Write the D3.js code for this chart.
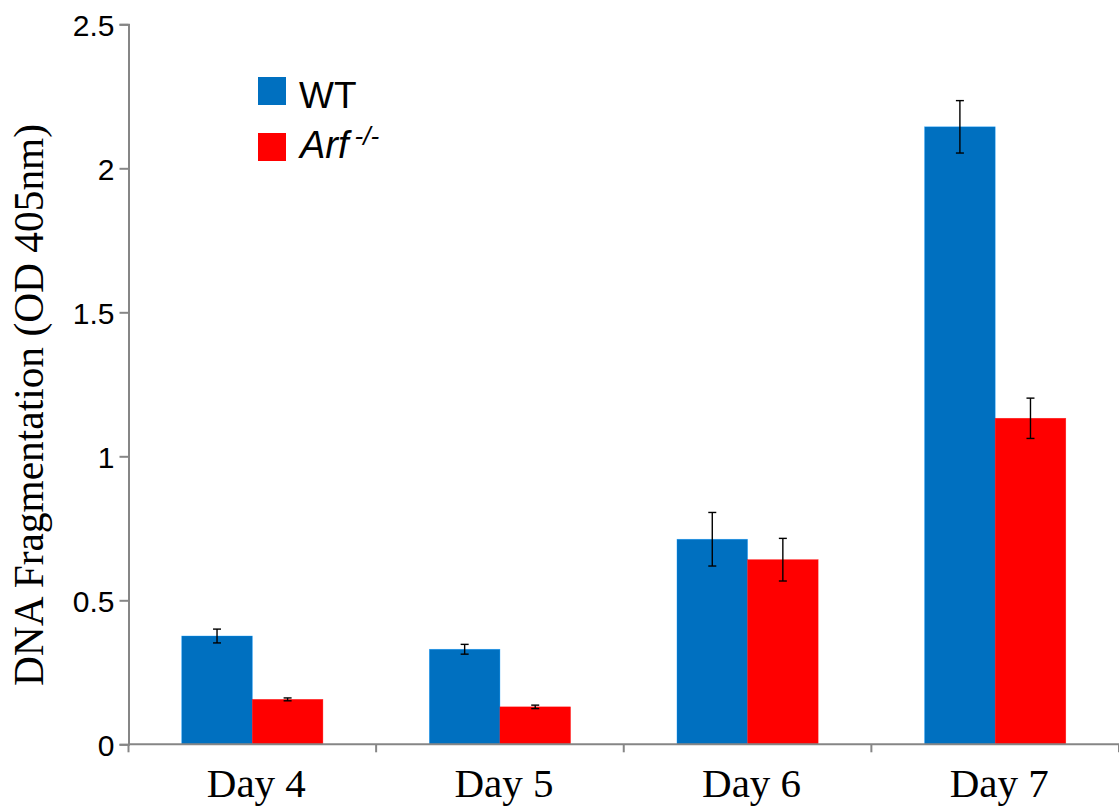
<!DOCTYPE html>
<html><head><meta charset="utf-8">
<script src="https://cdn.jsdelivr.net/npm/d3@7"></script>
<style>body{margin:0;background:#fff}svg{display:block}</style>
</head><body>
<svg id="c" width="1119" height="808"></svg>
<script>
const categories = ["Day 4", "Day 5", "Day 6", "Day 7"];
const seriesNames = ["WT", "Arf"];
const wtValues = [0.376, 0.330, 0.712, 2.144];
const wtErrors = [0.024, 0.017, 0.093, 0.091];
const arfValues = [0.156, 0.130, 0.641, 1.132];
const arfErrors = [0.005, 0.006, 0.074, 0.070];
const yTicks = [0, 0.5, 1, 1.5, 2, 2.5];
const colors = ["#0070C0", "#FF0000"];

const svg = d3.select("#c");
const m = {left: 128.5, right: 1119, top: 24.3, bottom: 744.3};
const x0 = d3.scaleBand().domain(categories).range([m.left, m.right]).padding(0);
const barW = x0.bandwidth() * 0.285;
const x1 = d3.scaleBand().domain(seriesNames).range([0, barW * 2]).padding(0);
const y = d3.scaleLinear().domain([0, 2.5]).range([m.bottom, m.top]);

const series = [
  {name: "WT", values: wtValues, errors: wtErrors, color: colors[0]},
  {name: "Arf", values: arfValues, errors: arfErrors, color: colors[1]}
];

const g = svg.append("g");
series.forEach(s => {
  categories.forEach((c, i) => {
    const bx = x0(c) + (x0.bandwidth() - barW * 2) / 2 + x1(s.name);
    g.append("rect")
      .attr("x", bx).attr("y", y(s.values[i]))
      .attr("width", x1.bandwidth()).attr("height", y(0) - y(s.values[i]))
      .attr("fill", s.color)
      .attr("stroke", d3.color(s.color).brighter(0.8)).attr("stroke-width", 0.6).attr("stroke-opacity", 0.6);
  });
});
// error bars
series.forEach(s => {
  categories.forEach((c, i) => {
    const cx = x0(c) + (x0.bandwidth() - barW * 2) / 2 + x1(s.name) + x1.bandwidth() / 2;
    const hi = y(s.values[i] + s.errors[i]), lo = y(s.values[i] - s.errors[i]);
    const eg = g.append("g").attr("stroke", "#000").attr("stroke-width", 1.4);
    eg.append("line").attr("x1", cx).attr("x2", cx).attr("y1", hi).attr("y2", lo);
    eg.append("line").attr("x1", cx - 4).attr("x2", cx + 4).attr("y1", hi).attr("y2", hi);
    eg.append("line").attr("x1", cx - 4).attr("x2", cx + 4).attr("y1", lo).attr("y2", lo);
  });
});

// Y axis
const yAxis = svg.append("g").attr("transform", `translate(${m.left},0)`)
  .call(d3.axisLeft(y).tickValues(yTicks).tickSize(9).tickPadding(5).tickFormat(d => d));
yAxis.select(".domain").attr("stroke", "#868686").attr("stroke-width", 2);
yAxis.selectAll(".tick line").attr("stroke", "#868686").attr("stroke-width", 2);
yAxis.selectAll(".tick text").attr("font-family", "'Liberation Sans', Arial, sans-serif")
  .attr("font-size", 30).attr("fill", "#000").attr("dy", "0.36em");

// X axis
const xAxis = svg.append("g").attr("transform", `translate(0,${m.bottom})`)
  .call(d3.axisBottom(x0).tickSize(0).tickPadding(0));
xAxis.select(".domain").remove();
svg.append("line").attr("x1", m.left).attr("x2", m.right).attr("y1", m.bottom).attr("y2", m.bottom)
  .attr("stroke", "#868686").attr("stroke-width", 2);
const bounds = categories.map(c => x0(c)).concat([m.right]);
bounds.forEach(b => {
  svg.append("line").attr("x1", b).attr("x2", b).attr("y1", m.bottom).attr("y2", m.bottom + 8)
    .attr("stroke", "#868686").attr("stroke-width", 2);
});
xAxis.selectAll(".tick text").attr("font-family", "'Liberation Serif', 'Times New Roman', serif")
  .attr("font-size", 41).attr("fill", "#000").attr("dy", 0).attr("y", 53).attr("dx", 4);

// Y title
svg.append("text").attr("transform", `translate(43,405) rotate(-90)`)
  .attr("text-anchor", "middle")
  .attr("font-family", "'Liberation Serif', 'Times New Roman', serif").attr("font-size", 41.4)
  .text("DNA Fragmentation (OD 405nm)");

// Legend
const lg = svg.append("g");
lg.append("rect").attr("x", 258).attr("y", 77).attr("width", 28).attr("height", 28).attr("fill", colors[0]);
lg.append("rect").attr("x", 258).attr("y", 133).attr("width", 28).attr("height", 28).attr("fill", colors[1]);
lg.append("text").attr("x", 299).attr("y", 108).attr("font-family", "'Liberation Sans', Arial, sans-serif")
  .attr("font-size", 37).text("WT");
const t2 = lg.append("text").attr("x", 300).attr("y", 158).attr("font-family", "'Liberation Sans', Arial, sans-serif")
  .attr("font-size", 38).attr("font-style", "italic");
t2.append("tspan").text("Arf");
t2.append("tspan").attr("font-size", 26).attr("dy", -13).attr("dx", 6).text("-/-");
</script>
</body></html>
